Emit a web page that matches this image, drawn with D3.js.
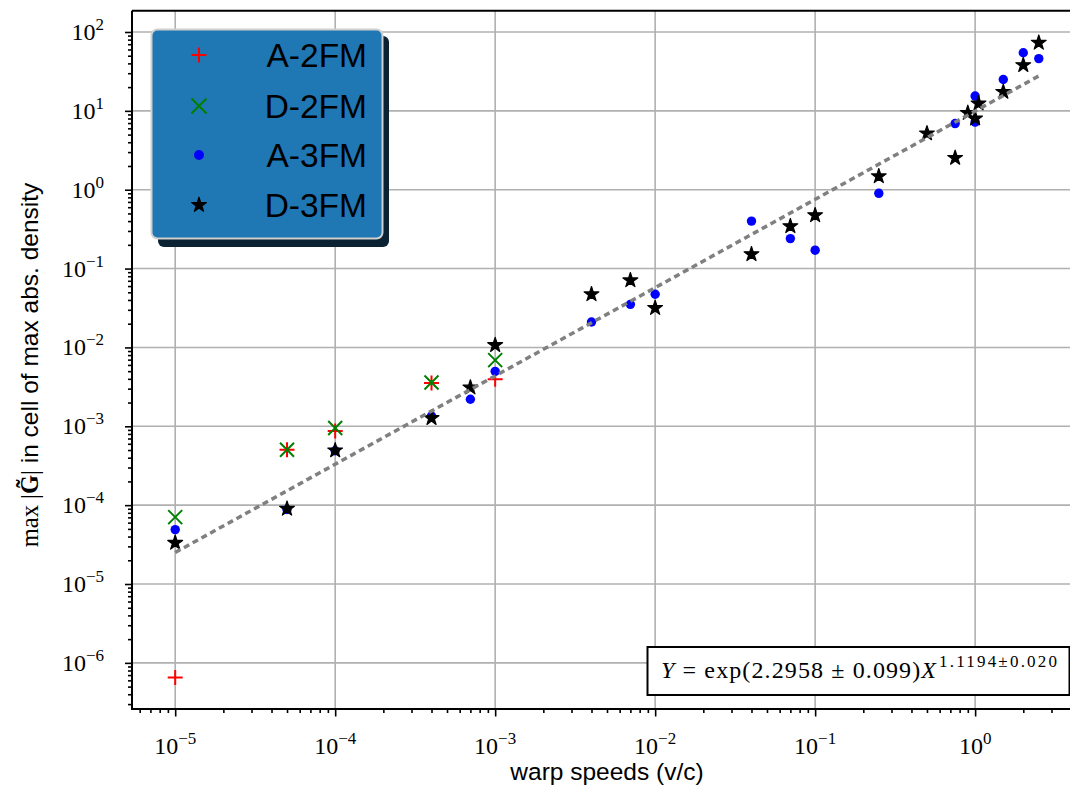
<!DOCTYPE html>
<html>
<head>
<meta charset="utf-8">
<script src="https://cdn.jsdelivr.net/npm/d3@7"></script>
<style>
  html, body { margin: 0; padding: 0; background: #ffffff; }
  svg { display: block; }
</style>
</head>
<body>
<svg id="chart" width="1070" height="793"></svg>
<script>
// ---------------- data ----------------
const a2fmX = [1e-5, 5e-5, 1e-4, 4e-4, 1e-3];
const a2fmY = [6.5e-7, 5.05e-4, 8.7e-4, 3.55e-3, 3.94e-3];

const d2fmX = [1e-5, 5e-5, 1e-4, 4e-4, 1e-3];
const d2fmY = [7.05e-5, 5.05e-4, 9.5e-4, 3.6e-3, 6.9e-3];

const a3fmX = [1e-5, 5e-5, 1e-4, 4e-4, 7e-4, 1e-3, 4e-3, 7e-3, 1e-2, 4e-2, 7e-2, 0.1, 0.25, 0.75, 1.0, 1.0, 1.5, 2.0, 2.5];
const a3fmY = [4.9e-5, 8.8e-5, 4.9e-4, 1.35e-3, 2.2e-3, 4.97e-3, 2.1e-2, 3.52e-2, 4.72e-2, 0.40, 0.24, 0.171, 0.90, 6.9, 15.4, 7.2, 25, 54.5, 46];

const d3fmX = [1e-5, 5e-5, 1e-4, 4e-4, 7e-4, 1e-3, 4e-3, 7e-3, 1e-2, 4e-2, 7e-2, 0.1, 0.25, 0.5, 0.75, 0.9, 1.0, 1.05, 1.5, 2.0, 2.5];
const d3fmY = [3.33e-5, 9.0e-5, 4.94e-4, 1.27e-3, 3.1e-3, 1.07e-2, 4.72e-2, 7.1e-2, 3.16e-2, 0.152, 0.344, 0.474, 1.48, 5.17, 2.53, 9.4, 8.0, 12.4, 17.4, 38, 73];

// fitted power law (endpoints)
const fitX = [1e-5, 2.5];
const fitY = [2.51e-5, 27.7];

const seriesNames = ["A-2FM", "D-2FM", "A-3FM", "D-3FM"];
const xTickExps = [-5, -4, -3, -2, -1, 0];
const yTickExps = [-6, -5, -4, -3, -2, -1, 0, 1, 2];
const xLabel = "warp speeds (v/c)";
const fitText = { a: "2.2958", da: "0.099", b: "1.1194", db: "0.020" };

// ---------------- layout ----------------
const L = 132, R = 1082, T = 10.7, B = 709;
const svg = d3.select("#chart");

const x = d3.scaleLog().domain([Math.pow(10, -5.27), Math.pow(10, 0.668)]).range([L, R]);
const y = d3.scaleLog().domain([Math.pow(10, -6.585), Math.pow(10, 2.27)]).range([B, T]);

const xMajor = xTickExps.map(e => Math.pow(10, e));
const yMajor = yTickExps.map(e => Math.pow(10, e));
function minorTicks(lo, hi) {
  const out = [];
  for (let e = Math.floor(lo) - 1; e <= Math.ceil(hi); e++) {
    for (let m = 2; m <= 9; m++) {
      const v = m * Math.pow(10, e);
      const lv = Math.log10(v);
      if (lv >= lo && lv <= hi) out.push(v);
    }
  }
  return out;
}
const xMinor = minorTicks(-5.27, 0.668);
const yMinor = minorTicks(-6.585, 2.27);

// grid
const grid = svg.append("g").attr("stroke", "#b0b0b0").attr("stroke-width", 1.6);
xMajor.forEach(v => grid.append("line").attr("x1", x(v)).attr("x2", x(v)).attr("y1", T).attr("y2", B));
yMajor.forEach(v => grid.append("line").attr("x1", L).attr("x2", R).attr("y1", y(v)).attr("y2", y(v)));

// ---------------- marks ----------------
const plot = svg.append("g");
function plus(g, cx, cy, s, color) {
  g.append("path").attr("d", `M${cx - s},${cy}H${cx + s}M${cx},${cy - s}V${cy + s}`)
    .attr("stroke", color).attr("stroke-width", 2).attr("fill", "none");
}
function cross(g, cx, cy, s, color) {
  g.append("path").attr("d", `M${cx - s},${cy - s}L${cx + s},${cy + s}M${cx - s},${cy + s}L${cx + s},${cy - s}`)
    .attr("stroke", color).attr("stroke-width", 2).attr("fill", "none");
}
const starPath = d3.symbol().type(d3.symbolStar).size(68)();
function star(g, cx, cy) {
  g.append("path").attr("d", starPath).attr("transform", `translate(${cx},${cy})`)
    .attr("fill", "#000").attr("stroke", "#000").attr("stroke-width", 1.2).attr("stroke-linejoin", "round");
}
function dot(g, cx, cy, r) {
  g.append("circle").attr("cx", cx).attr("cy", cy).attr("r", r).attr("fill", "#0000ff");
}

a2fmX.forEach((v, i) => plus(plot, x(v), y(a2fmY[i]), 7.5, "#ff0000"));
d2fmX.forEach((v, i) => cross(plot, x(v), y(d2fmY[i]), 7, "#008000"));
a3fmX.forEach((v, i) => dot(plot, x(v), y(a3fmY[i]), 4.7));
d3fmX.forEach((v, i) => star(plot, x(v), y(d3fmY[i])));

// fit line
const line = d3.line().x(d => x(d[0])).y(d => y(d[1]));
plot.append("path").datum(fitX.map((v, i) => [v, fitY[i]]))
  .attr("d", line).attr("fill", "none").attr("stroke", "#808080")
  .attr("stroke-width", 3.5).attr("stroke-dasharray", "6,4");

// ---------------- axes ----------------
const axB = svg.append("g").attr("transform", `translate(0,${B})`);
axB.call(d3.axisBottom(x).tickValues(xMajor).tickSize(7.5).tickFormat(""));
const axBm = svg.append("g").attr("transform", `translate(0,${B})`);
axBm.call(d3.axisBottom(x).tickValues(xMinor).tickSize(4).tickFormat(""));
const axL = svg.append("g").attr("transform", `translate(${L},0)`);
axL.call(d3.axisLeft(y).tickValues(yMajor).tickSize(7).tickFormat(""));
const axLm = svg.append("g").attr("transform", `translate(${L},0)`);
axLm.call(d3.axisLeft(y).tickValues(yMinor).tickSize(4).tickFormat(""));
[axB, axBm, axL, axLm].forEach(g => {
  g.selectAll(".domain").remove();
  g.selectAll(".tick line").attr("stroke", "#000").attr("stroke-width", 1.6);
});
// spines
svg.append("path").attr("d", `M${L},${T}H${R}M${L},${T}V${B}H${R}`)
  .attr("stroke", "#000").attr("stroke-width", 2).attr("fill", "none");

// tick labels
const serif = "'Liberation Serif', 'DejaVu Serif', serif";
const sans = "'Liberation Sans', Arial, sans-serif";
xTickExps.forEach(e => {
  const t = svg.append("text").attr("x", x(Math.pow(10, e))).attr("y", 754)
    .attr("text-anchor", "middle").attr("font-family", serif).attr("font-size", 24).attr("fill", "#000");
  t.append("tspan").text("10");
  t.append("tspan").attr("font-size", 17).attr("dy", -10).text(e < 0 ? "\u2212" + Math.abs(e) : String(e));
});
yTickExps.forEach(e => {
  const t = svg.append("text").attr("x", 104).attr("y", y(Math.pow(10, e)) + 8)
    .attr("text-anchor", "end").attr("font-family", serif).attr("font-size", 24).attr("fill", "#000");
  t.append("tspan").text("10");
  t.append("tspan").attr("font-size", 17).attr("dy", -10).text(e < 0 ? "\u2212" + Math.abs(e) : String(e));
});

// axis labels
svg.append("text").attr("x", 607).attr("y", 780).attr("text-anchor", "middle")
  .attr("font-family", sans).attr("font-size", 24.5).attr("fill", "#000").text(xLabel);

const yl = svg.append("text").attr("transform", `translate(38,${365}) rotate(-90)`)
  .attr("text-anchor", "middle").attr("font-size", 24.5).attr("fill", "#000");
yl.append("tspan").attr("font-family", serif).text("max |");
yl.append("tspan").attr("font-family", serif).attr("font-weight", "bold").text("G\u0303");
yl.append("tspan").attr("font-family", serif).text("|");
yl.append("tspan").attr("font-family", sans).text(" in cell of max abs. density");

// ---------------- legend ----------------
const lg = svg.append("g");
lg.append("rect").attr("x", 158).attr("y", 36).attr("width", 231).attr("height", 211).attr("rx", 6)
  .attr("fill", "#0a2232");
lg.append("rect").attr("x", 151.5).attr("y", 29.5).attr("width", 231).attr("height", 209).attr("rx", 6)
  .attr("fill", "#1f77b4").attr("stroke", "#d0d0d0").attr("stroke-width", 2);
const rowY = [55, 106, 155, 205];
plus(lg, 199, rowY[0], 7.5, "#ff0000");
cross(lg, 199, rowY[1], 7.5, "#008000");
dot(lg, 199, rowY[2], 5);
star(lg, 199, rowY[3]);
seriesNames.forEach((n, i) => {
  lg.append("text").attr("x", 367).attr("y", rowY[i] + 11.5).attr("text-anchor", "end")
    .attr("font-family", sans).attr("font-size", 33.5).attr("fill", "#000").text(n);
});

// ---------------- fit annotation ----------------
const an = svg.append("g");
an.append("rect").attr("x", 647.5).attr("y", 647).attr("width", 422).attr("height", 48)
  .attr("fill", "#fff").attr("stroke", "#000").attr("stroke-width", 2);
const at = an.append("text").attr("x", 661).attr("y", 678).attr("font-family", serif)
  .attr("font-size", 24).attr("fill", "#000")
  .attr("textLength", 275).attr("lengthAdjust", "spacing");
at.append("tspan").attr("font-style", "italic").text("Y");
at.append("tspan").text(` = exp(${fitText.a} \u00b1 ${fitText.da})`);
at.append("tspan").attr("font-style", "italic").text("X");
an.append("text").attr("x", 939).attr("y", 667).attr("font-family", serif)
  .attr("font-size", 17).attr("fill", "#000")
  .attr("textLength", 118).attr("lengthAdjust", "spacing")
  .text(`${fitText.b}\u00b1${fitText.db}`);
</script>
</body>
</html>
